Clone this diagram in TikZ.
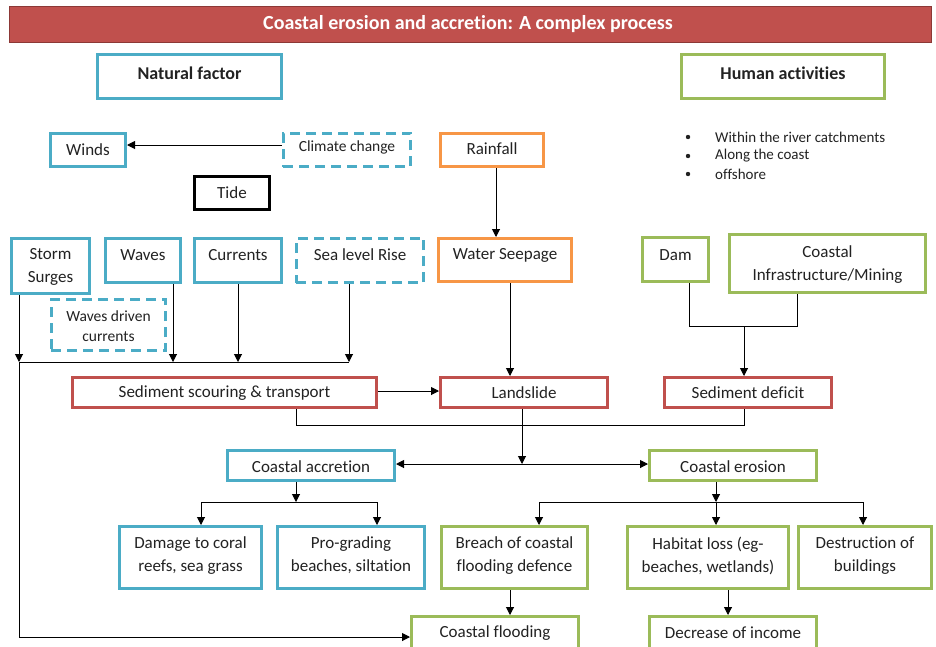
\documentclass[tikz,border=0pt]{standalone}
\usepackage{fontspec}
\setmainfont{Carlito}[Ligatures={NoCommon}, RawFeature={-liga;-clig;-calt}]
\usetikzlibrary{arrows.meta}
\definecolor{cblue}{HTML}{4BACC6}
\definecolor{cgreen}{HTML}{9BBB59}
\definecolor{corange}{HTML}{F79646}
\definecolor{cred}{HTML}{C0504D}
\definecolor{cdred}{HTML}{8C3836}
\definecolor{ctext}{HTML}{222222}
% #1 text options, #2 name, #3 style, #4 x1, #5 y1, #6 x2, #7 y2, #8 text y, #9 text
\newcommand\mkbox[9][]{%
  \node[#3, minimum width={#6-#4-2.6}, minimum height={#7-#5-2.6}] (#2) at ({(#4+#6)/2},{(#5+#7)/2}) {};
  \node[txt,#1] (#2-t) at ({(#4+#6)/2},#8) {#9};
}
\begin{document}
\begin{tikzpicture}[x=1pt,y=-1pt,
  box/.style={draw, line width=2.6pt, fill=white, inner sep=0pt},
  bluebox/.style={box, draw=cblue},
  greenbox/.style={box, draw=cgreen},
  orangebox/.style={box, draw=corange},
  redbox/.style={box, draw=cred},
  blackbox/.style={box, draw=black},
  dashbox/.style={dash pattern=on 10pt off 6pt},
  txt/.style={inner sep=0pt, align=center, font=\fontsize{17}{23}\selectfont, text=ctext},
  arr/.style={-{Triangle[length=8pt,width=8pt]}, line width=1pt},
  arrboth/.style={{Triangle[length=8pt,width=8pt]}-{Triangle[length=8pt,width=8pt]}, line width=1pt},
  ln/.style={line width=1pt}]
\useasboundingbox (0,0) rectangle (936,646);
\clip (0,0) rectangle (936,646);

% title
\node[fill=cred, draw=cdred, line width=1.5pt, inner sep=0pt, minimum width=922, minimum height=36] (title) at (470.5,24.5) {};
\node[txt, text=white, font=\fontsize{20}{24}\bfseries] (title-t) at (468,24) {Coastal erosion and accretion: A complex process};

% headers
\mkbox[font=\fontsize{18}{22}\bfseries]{natural}{bluebox}{96}{53}{283}{100}{73}{Natural factor}
\mkbox[font=\fontsize{18}{22}\bfseries]{human}{greenbox}{680}{53}{886}{100}{73}{Human activities}

% bullets
\foreach \yy/\tt [count=\i] in {137/Within the river catchments, 156/Along the coast, 174/offshore}{
  \fill[ctext] (688,\yy) circle (2.2) coordinate (bul\i);
  \node[txt, anchor=west, font=\fontsize{15}{18}\selectfont] (bt\i) at (715,\yy) {\tt};
}

% natural factors
\mkbox{winds}{bluebox}{49}{132}{127}{168}{150}{Winds}
\mkbox[font=\fontsize{15.5}{20}\selectfont]{climate}{bluebox,dashbox}{282}{132}{412}{168}{147}{Climate change}
\mkbox{tide}{blackbox}{193}{175}{271}{211}{193}{Tide}
\mkbox{rain}{orangebox}{439}{132}{545}{168}{149}{Rainfall}
\mkbox{storm}{bluebox}{10}{237}{91}{295}{266.5}{Storm\\Surges}
\mkbox{waves}{bluebox}{104}{237}{182}{284}{255}{Waves}
\mkbox{currents}{bluebox}{193}{237}{283}{284}{255}{Currents}
\mkbox{sealevel}{bluebox,dashbox}{295}{237}{425}{284}{255}{Sea level Rise}
\mkbox{seepage}{orangebox}{437}{237}{573}{283}{255}{Water Seepage}
\mkbox{dam}{greenbox}{641}{236}{710}{283}{255}{Dam}
\mkbox{infra}{greenbox}{728}{233}{927}{294}{265}{Coastal\\Infrastructure/Mining}
\mkbox[font=\fontsize{15.5}{20}\selectfont]{wdc}{bluebox,dashbox}{50}{298}{167}{352}{326}{Waves driven\\currents}

% processes
\mkbox{scour}{redbox}{71}{376}{378}{409}{393}{Sediment scouring \& transport}
\mkbox{landslide}{redbox}{439}{376}{609}{409}{393}{Landslide}
\mkbox{deficit}{redbox}{663}{376}{833}{409}{393}{Sediment deficit}
\mkbox{accretion}{bluebox}{226}{449}{396}{482}{467}{Coastal accretion}
\mkbox{erosion}{greenbox}{648}{449}{818}{482}{467}{Coastal erosion}

% impacts
\mkbox{damage}{bluebox}{118}{525}{263}{590}{555.5}{Damage to coral\\reefs, sea grass}
\mkbox{prograd}{bluebox}{276}{525}{426}{590}{555.5}{Pro-grading\\beaches, siltation}
\mkbox{breach}{greenbox}{440}{525}{589}{590}{555.5}{Breach of coastal\\flooding defence}
\mkbox{habitat}{greenbox}{626}{525}{790}{590}{555.5}{Habitat loss (eg-\\beaches, wetlands)}
\mkbox{destruct}{greenbox}{797}{525}{933}{590}{555.5}{Destruction of\\buildings}
\mkbox{flooding}{greenbox}{410}{615}{580}{662}{633}{Coastal flooding}
\mkbox{income}{greenbox}{648}{615}{818}{662}{633}{Decrease of income}

% connectors
\draw[arr] (climate.west |- 0,145) -- (winds.east |- 0,145);
\draw[arr] (rain.south -| 496,0) -- (seepage.north -| 496,0);
\draw[arr] (seepage.south -| 510,0) -- (landslide.north -| 510,0);
\draw[ln] (dam.south -| 689,0) -- (689,326) -- (797,326) -- (infra.south -| 797,0);
\coordinate (hj) at (744,326);
\draw[arr] (hj) -- (deficit.north -| 744,0);

\coordinate (nj) at (19,362);
\draw[arr] (storm.south -| 19,0) -- (nj);
\draw[ln] (nj) -- (349,362);
\draw[arr] (nj) -- (19,637) -- (flooding.west |- 0,637);
\draw[arr] (waves.south -| 173,0) -- (173,362);
\draw[arr] (currents.south -| 238,0) -- (238,362);
\draw[arr] (sealevel.south -| 349,0) -- (349,362);

\draw[arr] (scour.east |- 0,391) -- (landslide.west |- 0,391);
\draw[ln] (scour.south -| 296,0) -- (296,425) -- (744,425) -- (deficit.south -| 744,0);
\draw[arr] (landslide.south -| 522,0) -- (522,464);
\draw[arrboth] (accretion.east |- 0,464) -- (erosion.west |- 0,464);

\draw[arr] (accretion.south -| 296,0) -- (296,502);
\draw[ln] (201,502) -- (377,502);
\draw[arr] (201,502) -- (damage.north -| 201,0);
\draw[arr] (377,502) -- (prograd.north -| 377,0);

\draw[arr] (erosion.south -| 716,0) -- (716,502);
\draw[ln] (539,502) -- (863,502);
\draw[arr] (539,502) -- (breach.north -| 539,0);
\draw[arr] (716,502) -- (habitat.north -| 716,0);
\draw[arr] (863,502) -- (destruct.north -| 863,0);

\draw[arr] (breach.south -| 510,0) -- (flooding.north -| 510,0);
\draw[arr] (habitat.south -| 728,0) -- (income.north -| 728,0);
\end{tikzpicture}
\end{document}
